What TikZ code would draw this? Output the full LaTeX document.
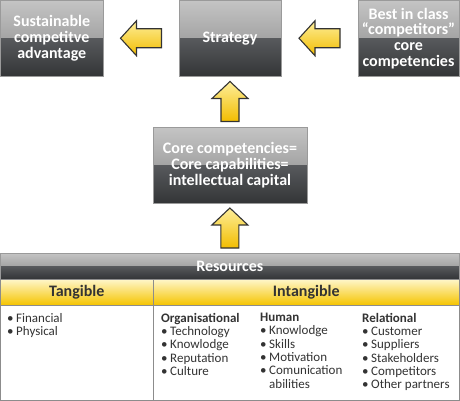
\documentclass[tikz,border=0pt]{standalone}
\usepackage{fontspec}
\setmainfont{Carlito}
\usetikzlibrary{calc}
\definecolor{gtop}{HTML}{C4C4C4}
\definecolor{gmid}{HTML}{858585}
\definecolor{dtop}{HTML}{585A5D}
\definecolor{dbot}{HTML}{333537}
\definecolor{boxedge}{HTML}{9A9A9A}
\definecolor{ylight}{HTML}{FEEE9A}
\definecolor{ydark}{HTML}{F2BD00}
\definecolor{hlight}{HTML}{FFF7CC}
\definecolor{hdark}{HTML}{F5C400}
\definecolor{txt}{HTML}{333333}
\definecolor{tline}{HTML}{8C8C8C}
\tikzset{
  glossbox/.style={draw=boxedge, line width=0.8pt, text=white,
    font=\bfseries\fontsize{16}{15.7}\selectfont, align=center, inner sep=0pt,
    path picture={
      \shade[top color=gtop,bottom color=gmid] (path picture bounding box.north west) rectangle (path picture bounding box.east);
      \shade[top color=dtop,bottom color=dbot] (path picture bounding box.west) rectangle (path picture bounding box.south east);
    }},
  yellowhdr/.style={draw=tline, line width=0.8pt, top color=hlight, bottom color=hdark,
    text=txt, font=\bfseries\fontsize{16}{15.7}\selectfont, inner sep=0pt},
  bodycell/.style={draw=tline, line width=0.8pt, fill=white, inner sep=0pt},
  listtext/.style={anchor=north west, inner sep=0pt, align=left, text=txt,
    font=\fontsize{13}{13.3}\selectfont},
  arrowshape/.style={draw=black!80, line width=1.1pt, line join=miter, top color=ylight, bottom color=ydark},
  leftarrow/.pic={\shade[arrowshape] (-20.5,0) -- (-4.5,-17.5) -- (-4.5,-9.5) -- (20.5,-9.5) -- (20.5,9.5) -- (-4.5,9.5) -- (-4.5,17.5) -- cycle;},
  uparrow/.pic={\shade[arrowshape] (0,-20) -- (18,-3) -- (9,-3) -- (9,20) -- (-9,20) -- (-9,-3) -- (-18,-3) -- cycle;},
}
\newcommand{\bul}{\makebox[9pt][l]{•}}
\begin{document}
\begin{tikzpicture}[x=1pt,y=-1pt]
\useasboundingbox (0,0) rectangle (460,401);
% top boxes
\node[glossbox, minimum width=102.5pt, minimum height=75.5pt] (sca) at (51.75,38.25) {Sustainable\\competitve\\advantage};
\node[glossbox, minimum width=102pt, minimum height=75.5pt] (strat) at (230,38.25) {Strategy};
\node[glossbox, minimum width=101pt, minimum height=75.5pt] (best) at (408.5,38.25) {Best in class\\“competitors”\\core\\competencies};
\node[glossbox, minimum width=154pt, minimum height=76pt] (core) at (230,165) {Core competencies=\\Core capabilities=\\intellectual capital};
% table
\node[glossbox, minimum width=459pt, minimum height=26pt] (res) at (229.75,266) {Resources};
\node[yellowhdr, minimum width=153pt, minimum height=26pt] (tang) at (76.75,292) {Tangible};
\node[yellowhdr, minimum width=306pt, minimum height=26pt] (intang) at (306.25,292) {Intangible};
\node[bodycell, minimum width=153pt, minimum height=95pt] (tbody) at (76.75,352.5) {};
\node[bodycell, minimum width=306pt, minimum height=95pt] (ibody) at (306.25,352.5) {};
% arrows
\pic at ($(sca.east)!0.5!(strat.west)$) {leftarrow};
\pic at ($(strat.east)!0.5!(best.west)$) {leftarrow};
\pic at ($(strat.south)!0.5!(core.north)$) {uparrow};
\pic at ($(core.south)!0.5!(res.north)$) {uparrow};
% lists
\node[listtext] (l1) at (7,313) {\bul Financial\\\bul Physical};
\node[listtext] (l2) at (161,313) {\textbf{Organisational}\\\bul Technology\\\bul Knowlodge\\\bul Reputation\\\bul Culture};
\node[listtext] (l3) at (260,313) {\textbf{Human}\\\bul Knowlodge\\\bul Skills\\\bul Motivation\\\bul Comunication\\\hphantom{\bul}abilities};
\node[listtext] (l4) at (362,313) {\textbf{Relational}\\\bul Customer\\\bul Suppliers\\\bul Stakeholders\\\bul Competitors\\\bul Other partners};
\end{tikzpicture}
\end{document}
